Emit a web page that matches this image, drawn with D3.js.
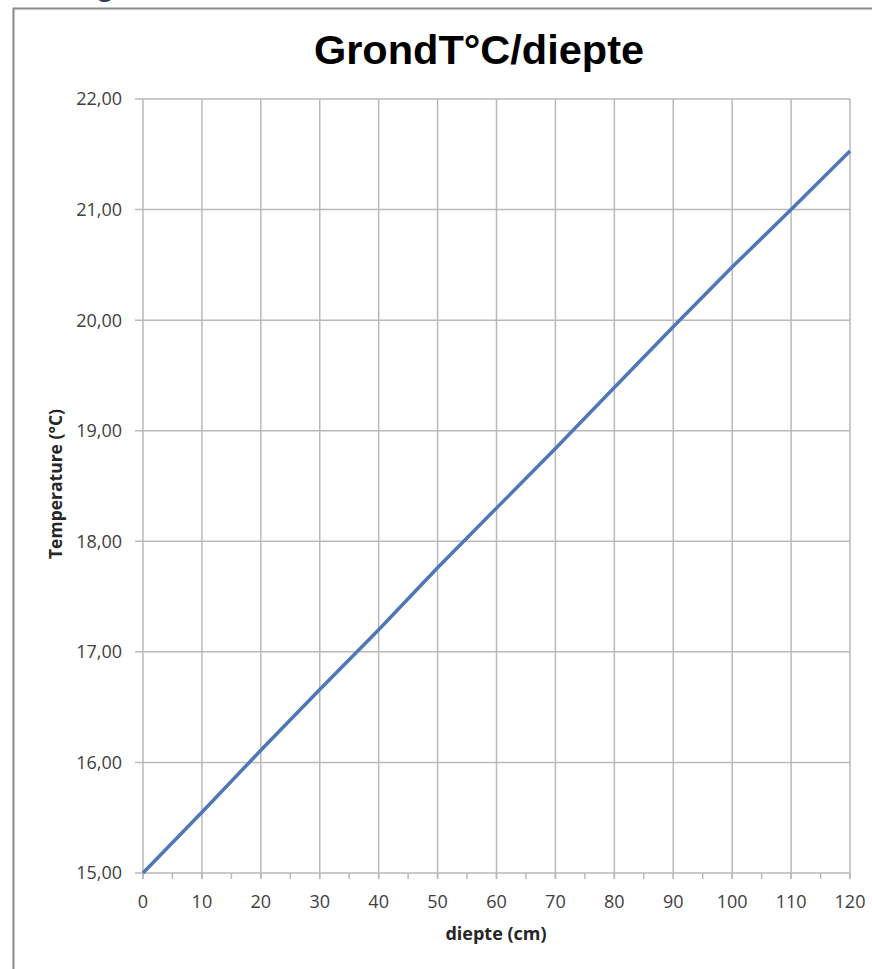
<!DOCTYPE html>
<html>
<head>
<meta charset="utf-8">
<script src="https://cdn.jsdelivr.net/npm/d3@7"></script>
<style>
  body { margin: 0; background: #fff; }
  svg { display: block; }
</style>
</head>
<body>
<svg id="chart"></svg>
<script>
// data
var depths = [0, 10, 20, 30, 40, 50, 60, 70, 80, 90, 100, 110, 120]
var temps = [15.00, 15.55, 16.11, 16.66, 17.20, 17.76, 18.30, 18.84, 19.39, 19.94, 20.48, 21.00, 21.53]
var yTicks = [15, 16, 17, 18, 19, 20, 21, 22]
var xTicks = [0, 10, 20, 30, 40, 50, 60, 70, 80, 90, 100, 110, 120]
var xMinor = d3.range(0, 121, 5)

var W = 872, H = 969
var plotL = 143, plotR = 850, plotT = 99, plotB = 873

var svg = d3.select('#chart').attr('width', W).attr('height', H)

var x = d3.scaleLinear().domain([0, 120]).range([plotL, plotR])
var y = d3.scaleLinear().domain([15, 22]).range([plotB, plotT])

var fmt = function(v){ return d3.format('.2f')(v).replace('.', ',') }

// outer frame
svg.append('rect')
  .attr('x', 13.5).attr('y', 8.5)
  .attr('width', W).attr('height', H)
  .attr('fill', 'none').attr('stroke', '#8a8a8a').attr('stroke-width', 2)

// cut off letter above the frame (only its tail shows)
svg.append('text')
  .attr('x', 96).attr('y', -4)
  .attr('font-family', 'Liberation Sans, Arial, sans-serif')
  .attr('font-weight', 'bold').attr('font-size', 30)
  .attr('fill', '#2b3f5c')
  .text('g')

// title
svg.append('text')
  .attr('x', 479).attr('y', 64)
  .attr('text-anchor', 'middle')
  .attr('font-family', 'Liberation Sans, Arial, sans-serif')
  .attr('font-weight', 'bold').attr('font-size', 41.5)
  .attr('fill', '#000')
  .text('GrondT°C/diepte')

var grid = '#b9b9b9'

// horizontal grid + y ticks
svg.append('g').selectAll('line').data(yTicks).enter().append('line')
  .attr('x1', plotL - 8).attr('x2', plotR)
  .attr('y1', function(d){ return y(d) }).attr('y2', function(d){ return y(d) })
  .attr('stroke', grid).attr('stroke-width', 1.5)

// vertical grid
svg.append('g').selectAll('line').data(xTicks).enter().append('line')
  .attr('x1', function(d){ return x(d) }).attr('x2', function(d){ return x(d) })
  .attr('y1', plotT).attr('y2', plotB + 6)
  .attr('stroke', grid).attr('stroke-width', 1.5)

// minor x ticks
svg.append('g').selectAll('line').data(xMinor).enter().append('line')
  .attr('x1', function(d){ return x(d) }).attr('x2', function(d){ return x(d) })
  .attr('y1', plotB).attr('y2', plotB + 6)
  .attr('stroke', grid).attr('stroke-width', 1.5)

// y labels
svg.append('g').selectAll('text').data(yTicks).enter().append('text')
  .attr('x', 122).attr('y', function(d){ return y(d) })
  .attr('dy', '0.36em')
  .attr('text-anchor', 'end')
  .attr('font-family', 'Open Sans, sans-serif').attr('font-size', 18)
  .attr('fill', '#404040')
  .text(fmt)

// x labels
svg.append('g').selectAll('text').data(xTicks).enter().append('text')
  .attr('x', function(d){ return x(d) }).attr('y', 908)
  .attr('text-anchor', 'middle')
  .attr('font-family', 'Open Sans, sans-serif').attr('font-size', 18)
  .attr('fill', '#404040')
  .text(function(d){ return d })

// axis titles
svg.append('text')
  .attr('x', 496).attr('y', 940)
  .attr('text-anchor', 'middle')
  .attr('font-family', 'Open Sans, sans-serif').attr('font-weight', 'bold').attr('font-size', 18)
  .attr('fill', '#262626')
  .text('diepte (cm)')

svg.append('text')
  .attr('transform', 'translate(62,484) rotate(-90)')
  .attr('text-anchor', 'middle')
  .attr('font-family', 'Open Sans, sans-serif').attr('font-weight', 'bold').attr('font-size', 17.5)
  .attr('fill', '#262626')
  .text('Temperature (°C)')

// the line
var pts = depths.map(function(d, i){ return [d, temps[i]] })
svg.append('path')
  .datum(pts)
  .attr('fill', 'none')
  .attr('stroke', '#4f77b8').attr('stroke-width', 3.5)
  .attr('d', d3.line().x(function(d){ return x(d[0]) }).y(function(d){ return y(d[1]) }))
</script>
</body>
</html>
